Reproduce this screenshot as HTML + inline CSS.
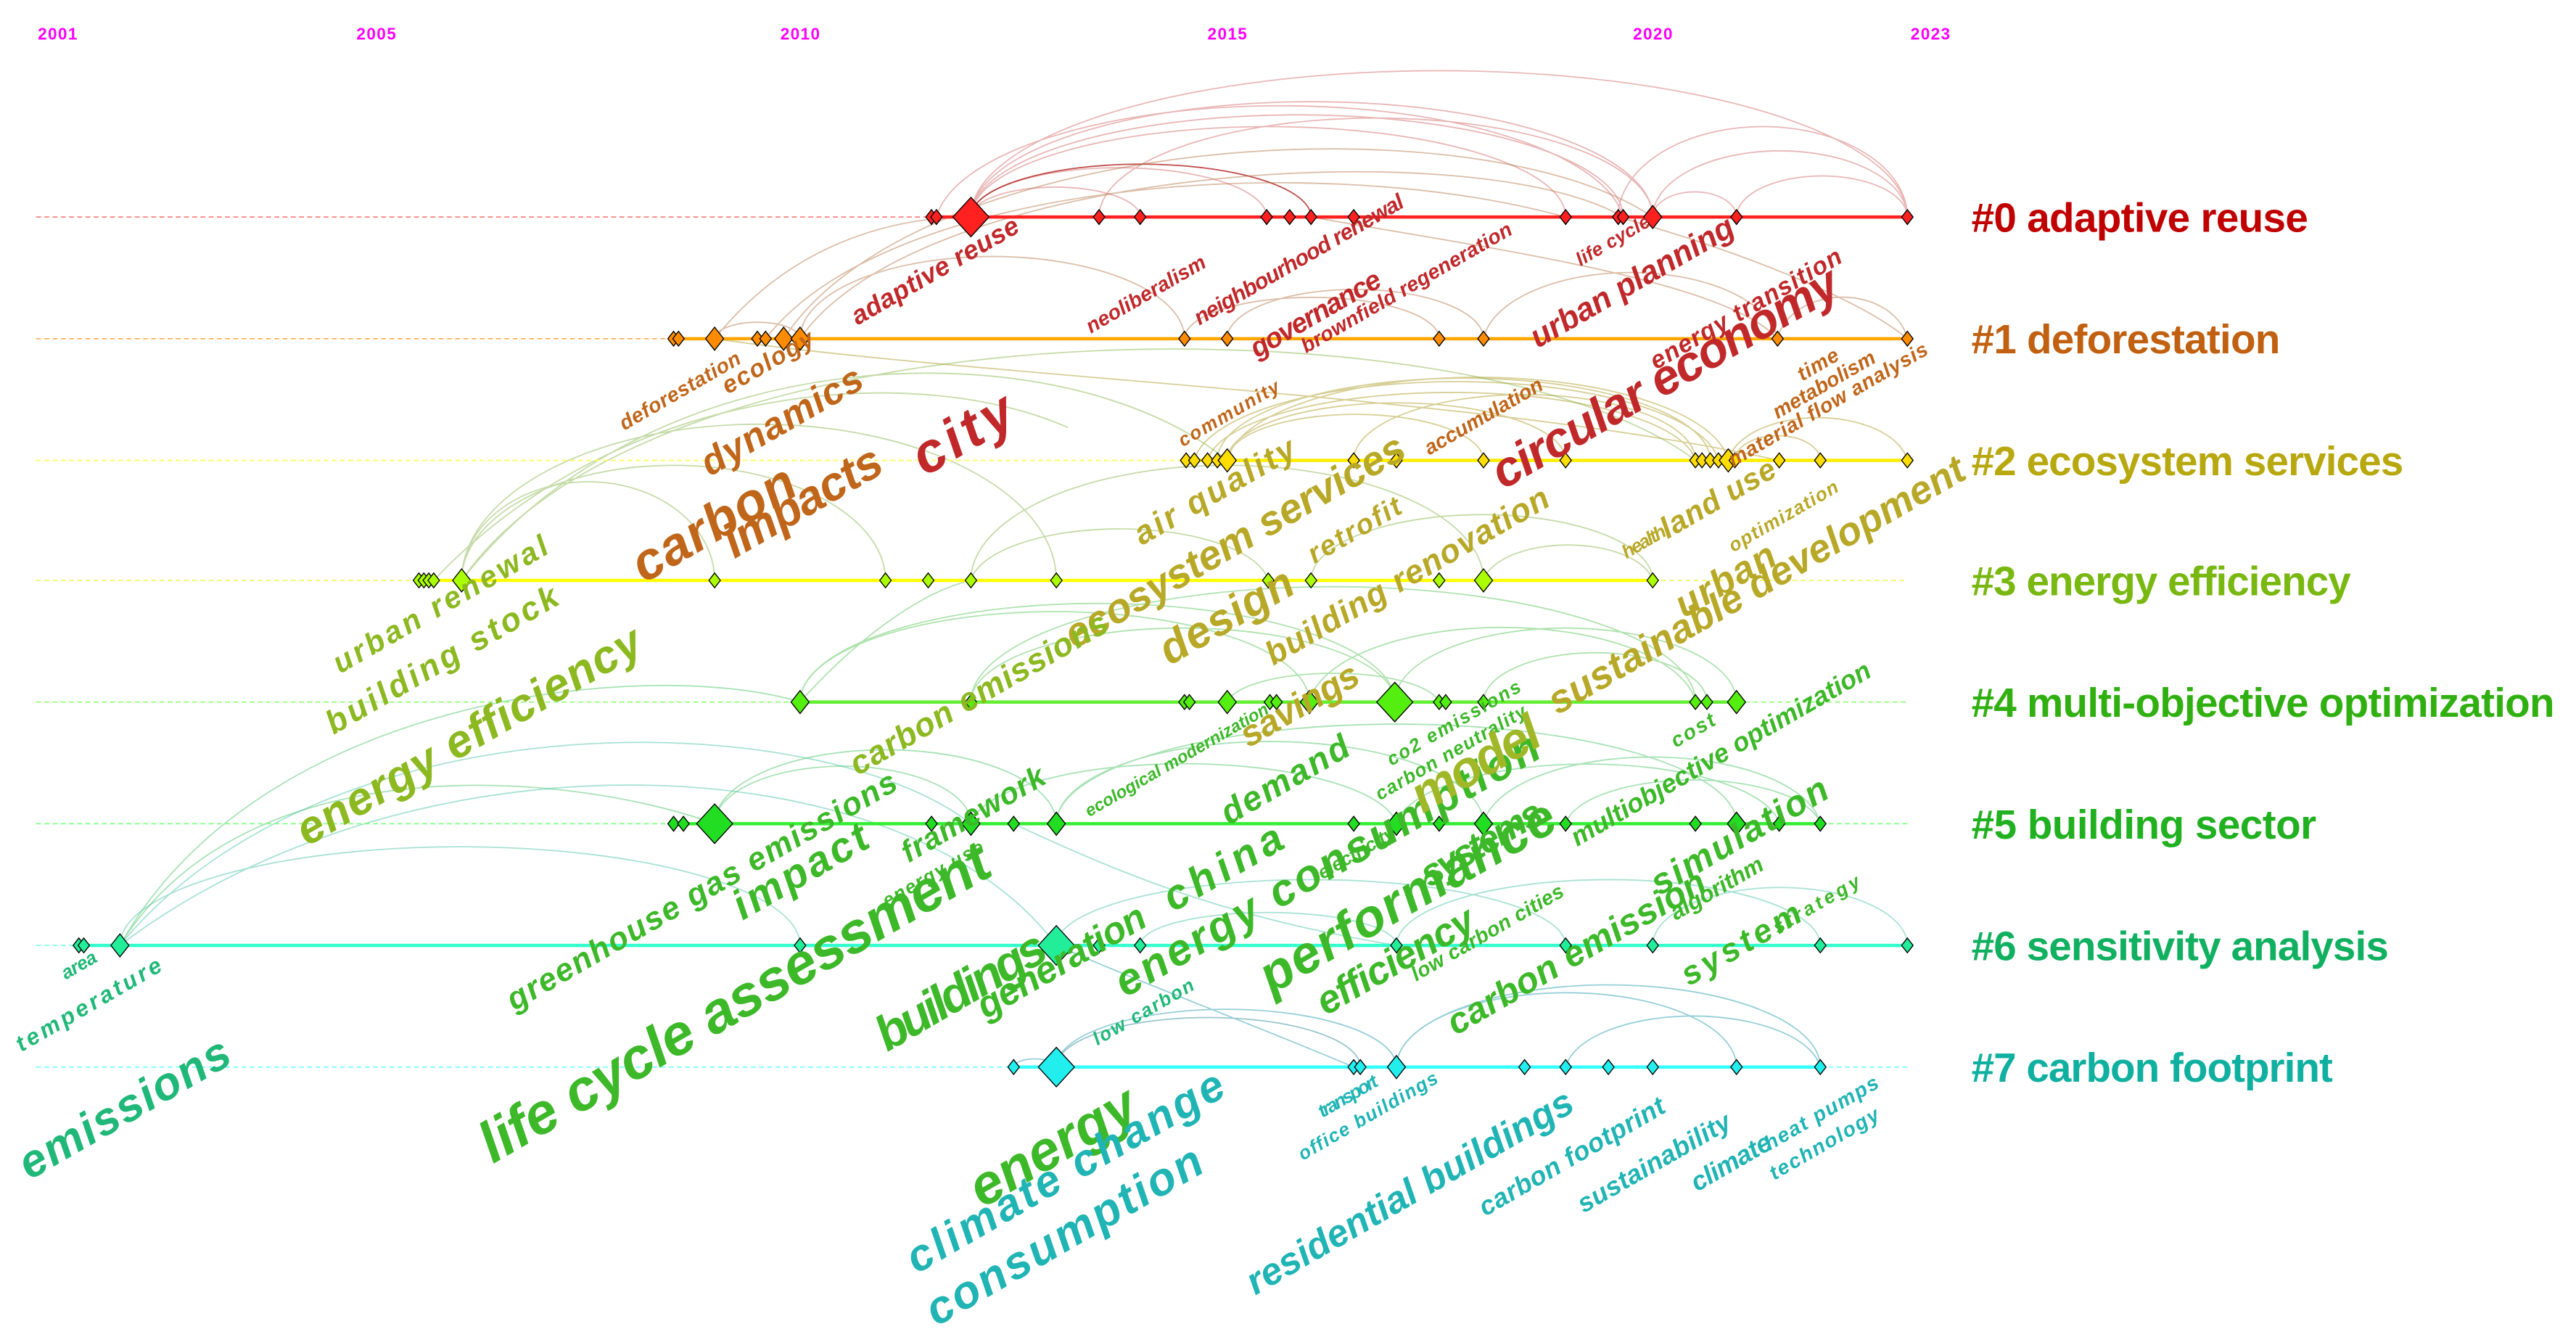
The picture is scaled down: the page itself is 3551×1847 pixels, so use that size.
<!DOCTYPE html>
<html><head><meta charset="utf-8"><style>
html,body{margin:0;padding:0;background:#fff;}
svg{display:block;}
.k{font-family:"Liberation Sans",sans-serif;font-weight:bold;font-style:italic;}
.y{font-family:"Liberation Sans Narrow","Liberation Sans",sans-serif;font-weight:bold;fill:#ff00ff;font-size:10px;}
.c{font-family:"Liberation Sans Narrow","Liberation Sans",sans-serif;font-weight:bold;font-size:25px;}
</style></head><body>
<svg width="3551" height="1847" viewBox="0 0 1568 815" preserveAspectRatio="none" xmlns="http://www.w3.org/2000/svg">
<rect width="1568" height="815" fill="#fff"/>
<g class="y" text-anchor="middle">
<text x="35" y="24" textLength="24">2001</text>
<text x="229" y="24" textLength="24">2005</text>
<text x="487" y="24" textLength="24">2010</text>
<text x="747" y="24" textLength="24">2015</text>
<text x="1006" y="24" textLength="24">2020</text>
<text x="1175" y="24" textLength="24">2023</text>
</g>
<g fill="none" stroke-width="0.8">
<g stroke="#d06060" opacity="0.45">
<path d="M591 132 A285 89 0 0 1 1161 132"/>
<path d="M591 132 A207 70 0 0 1 1006 132"/>
<path d="M591 132 A198 62 0 0 1 988 132"/>
<path d="M591 132 A181 55 0 0 1 953 132"/>
<path d="M591 132 A90 30 0 0 1 771 132"/>
<path d="M591 132 A51 18 0 0 1 694 132"/>
<path d="M1006 132 A77 40 0 0 1 1161 132"/>
<path d="M1006 132 A25 15 0 0 1 1057 132"/>
<path d="M1057 132 A52 25 0 0 1 1161 132"/>
<path d="M985 132 A88 55 0 0 1 1161 132"/>
<path d="M669 132 A168 60 0 0 1 1006 132"/>
<path d="M570 132 A210 75 0 0 1 988 132"/>
</g>
<path d="M591 132 A103 32 0 0 1 798 132" stroke="#b02020" opacity="0.8"/>
<g stroke="#b07040" opacity="0.45">
<path d="M435 206 C480 150 540 132 591 132"/>
<path d="M477 206 C560 80 900 60 1006 132"/>
<path d="M487 206 C560 100 900 80 988 132"/>
<path d="M466 206 C540 110 800 90 953 132"/>
<path d="M435 206 A26 10 0 0 1 487 206"/>
<path d="M747 206 A78 30 0 0 1 903 206"/>
<path d="M721 206 A77 25 0 0 1 876 206"/>
<path d="M903 206 A90 45 0 0 1 1082 206"/>
<path d="M1082 206 A40 30 0 0 1 1161 206"/>
<path d="M487 206 A117 50 0 0 1 721 206"/>
<path d="M798 132 C900 150 1050 170 1082 206"/>
<path d="M985 132 C1050 150 1130 180 1161 206"/>
</g>
<g stroke="#b0a030" opacity="0.5">
<path d="M747 280 A153 55 0 0 1 1052 280"/>
<path d="M741 280 A150 50 0 0 1 1041 280"/>
<path d="M735 280 A149 45 0 0 1 1032 280"/>
<path d="M727 280 A160 52 0 0 1 1046 280"/>
<path d="M747 280 A103 35 0 0 1 953 280"/>
<path d="M747 280 A78 28 0 0 1 903 280"/>
<path d="M1056 280 A26 15 0 0 1 1108 280"/>
<path d="M1052 280 A55 30 0 0 1 1161 280"/>
<path d="M824 280 A104 40 0 0 1 1032 280"/>
<path d="M435 206 C600 230 900 240 1083 280"/>
</g>
<g stroke="#80b040" opacity="0.45">
<path d="M281 353 C400 200 650 200 747 280"/>
<path d="M281 353 C400 180 900 180 1032 280"/>
<path d="M281 353 A129 70 0 0 1 539 353"/>
<path d="M281 353 A77 60 0 0 1 435 353"/>
<path d="M281 353 A181 95 0 0 1 643 353"/>
<path d="M591 353 A156 70 0 0 1 903 353"/>
<path d="M591 353 A91 35 0 0 1 772 353"/>
<path d="M798 353 A104 40 0 0 1 1006 353"/>
<path d="M903 353 A52 25 0 0 1 1006 353"/>
<path d="M264 353 C380 230 560 220 650 260"/>
</g>
<g stroke="#50c050" opacity="0.45">
<path d="M487 427 C520 390 560 360 591 353"/>
<path d="M487 427 A155 55 0 0 1 797 427"/>
<path d="M487 427 A181 60 0 0 1 849 427"/>
<path d="M797 427 A118 50 0 0 1 1032 427"/>
<path d="M849 427 A104 45 0 0 1 1057 427"/>
<path d="M747 427 A65 20 0 0 1 876 427"/>
<path d="M591 427 A129 45 0 0 1 849 427"/>
<path d="M903 427 A68 30 0 0 1 1039 427"/>
<path d="M591 427 A220 70 0 0 1 1032 427"/>
</g>
<g stroke="#40c060" opacity="0.45">
<path d="M73 575 C150 450 350 470 435 501"/>
<path d="M73 575 C160 420 400 400 487 427"/>
<path d="M435 501 A104 45 0 0 1 643 501"/>
<path d="M435 501 A78 35 0 0 1 591 501"/>
<path d="M591 501 A130 40 0 0 1 850 501"/>
<path d="M643 501 A130 50 0 0 1 903 501"/>
<path d="M850 501 A117 40 0 0 1 1083 501"/>
<path d="M903 501 A103 45 0 0 1 1108 501"/>
<path d="M953 501 A78 30 0 0 1 1108 501"/>
<path d="M643 501 A205 60 0 0 1 1057 501"/>
</g>
<g stroke="#40c0a0" opacity="0.45">
<path d="M73 575 C200 420 500 430 591 501"/>
<path d="M73 575 A207 60 0 0 1 487 575"/>
<path d="M73 575 C250 440 550 450 643 575"/>
<path d="M643 575 A155 40 0 0 1 953 575"/>
<path d="M850 575 A129 40 0 0 1 1108 575"/>
<path d="M1006 575 A77 35 0 0 1 1161 575"/>
<path d="M694 575 A78 20 0 0 1 850 575"/>
<path d="M617 501 C700 540 760 560 850 575"/>
</g>
<g stroke="#30a0b0" opacity="0.5">
<path d="M643 649 A92 30 0 0 1 828 649" stroke="#208090" opacity="0.9"/>
<path d="M643 649 A103 35 0 0 1 850 649"/>
<path d="M850 649 A103 45 0 0 1 1057 649"/>
<path d="M850 649 A129 50 0 0 1 1108 649"/>
<path d="M953 649 A78 35 0 0 1 1108 649"/>
<path d="M617 649 A13 5 0 0 1 643 649"/>
<path d="M643 575 C700 600 780 630 824 649"/>
</g>
</g>
<g stroke-width="0.8" stroke-dasharray="3,2" fill="none">
<line x1="22" y1="132" x2="567" y2="132" stroke="#ff8080"/>
<line x1="22" y1="206" x2="410" y2="206" stroke="#ffb060"/>
<line x1="22" y1="280" x2="722" y2="280" stroke="#ffff60"/>
<line x1="22" y1="353" x2="255" y2="353" stroke="#eeff60"/>
<line x1="1006" y1="353" x2="1161" y2="353" stroke="#eeff60"/>
<line x1="22" y1="427" x2="487" y2="427" stroke="#99ff80"/>
<line x1="1057" y1="427" x2="1161" y2="427" stroke="#99ff80"/>
<line x1="22" y1="501" x2="410" y2="501" stroke="#80ff80"/>
<line x1="1108" y1="501" x2="1161" y2="501" stroke="#80ff80"/>
<line x1="22" y1="575" x2="48" y2="575" stroke="#80ffdd"/>
<line x1="22" y1="649" x2="617" y2="649" stroke="#80ffff"/>
<line x1="1108" y1="649" x2="1161" y2="649" stroke="#80ffff"/>
</g>
<g stroke-width="2">
<line x1="567" y1="132" x2="1161" y2="132" stroke="#ff2020"/>
<line x1="410" y1="206" x2="1161" y2="206" stroke="#ffa500"/>
<line x1="722" y1="280" x2="1161" y2="280" stroke="#ffee00"/>
<line x1="255" y1="353" x2="1006" y2="353" stroke="#ffff00"/>
<line x1="487" y1="427" x2="1057" y2="427" stroke="#66ee33"/>
<line x1="410" y1="501" x2="1108" y2="501" stroke="#33ee33"/>
<line x1="48" y1="575" x2="1161" y2="575" stroke="#33ffcc"/>
<line x1="617" y1="649" x2="1108" y2="649" stroke="#33ffff"/>
</g>
<defs>
<path id="s" d="M0 -4.5 L3.5 0 L0 4.5 L-3.5 0Z"/>
<path id="m" d="M0 -7 L5.5 0 L0 7 L-5.5 0Z"/>
<path id="b" d="M0 -12 L11 0 L0 12 L-11 0Z"/>
</defs>
<g stroke="#000" stroke-width="0.6">
<g fill="#ff2020">
<use href="#s" x="567" y="132"/><use href="#s" x="570" y="132"/><use href="#b" x="591" y="132"/><use href="#s" x="669" y="132"/><use href="#s" x="694" y="132"/><use href="#s" x="771" y="132"/><use href="#s" x="785" y="132"/><use href="#s" x="798" y="132"/><use href="#s" x="824" y="132"/><use href="#s" x="953" y="132"/><use href="#s" x="985" y="132"/><use href="#s" x="988" y="132"/><use href="#m" x="1006" y="132"/><use href="#s" x="1057" y="132"/><use href="#s" x="1161" y="132"/>
</g>
<g fill="#ff8c00">
<use href="#s" x="410" y="206"/><use href="#s" x="413" y="206"/><use href="#m" x="435" y="206"/><use href="#s" x="461" y="206"/><use href="#s" x="466" y="206"/><use href="#m" x="477" y="206"/><use href="#m" x="487" y="206"/><use href="#s" x="721" y="206"/><use href="#s" x="747" y="206"/><use href="#s" x="876" y="206"/><use href="#s" x="903" y="206"/><use href="#s" x="1082" y="206"/><use href="#s" x="1161" y="206"/>
</g>
<g fill="#ffdd00">
<use href="#s" x="722" y="280"/><use href="#s" x="727" y="280"/><use href="#s" x="735" y="280"/><use href="#s" x="741" y="280"/><use href="#m" x="747" y="280"/><use href="#s" x="824" y="280"/><use href="#s" x="850" y="280"/><use href="#s" x="903" y="280"/><use href="#s" x="953" y="280"/><use href="#s" x="1032" y="280"/><use href="#s" x="1036" y="280"/><use href="#s" x="1041" y="280"/><use href="#s" x="1046" y="280"/><use href="#m" x="1052" y="280"/><use href="#s" x="1056" y="280"/><use href="#s" x="1083" y="280"/><use href="#s" x="1108" y="280"/><use href="#s" x="1161" y="280"/>
</g>
<g fill="#aaff00">
<use href="#s" x="255" y="353"/><use href="#s" x="258" y="353"/><use href="#s" x="261" y="353"/><use href="#s" x="264" y="353"/><use href="#m" x="281" y="353"/><use href="#s" x="435" y="353"/><use href="#s" x="539" y="353"/><use href="#s" x="565" y="353"/><use href="#s" x="591" y="353"/><use href="#s" x="643" y="353"/><use href="#s" x="772" y="353"/><use href="#s" x="798" y="353"/><use href="#s" x="876" y="353"/><use href="#m" x="903" y="353"/><use href="#s" x="1006" y="353"/>
</g>
<g fill="#55ee11">
<use href="#m" x="487" y="427"/><use href="#s" x="591" y="427"/><use href="#s" x="721" y="427"/><use href="#s" x="724" y="427"/><use href="#m" x="747" y="427"/><use href="#s" x="773" y="427"/><use href="#s" x="777" y="427"/><use href="#m" x="797" y="427"/><use href="#b" x="849" y="427"/><use href="#s" x="876" y="427"/><use href="#s" x="880" y="427"/><use href="#s" x="903" y="427"/><use href="#s" x="1032" y="427"/><use href="#s" x="1039" y="427"/><use href="#m" x="1057" y="427"/>
</g>
<g fill="#22dd22">
<use href="#s" x="410" y="501"/><use href="#s" x="416" y="501"/><use href="#b" x="435" y="501"/><use href="#s" x="567" y="501"/><use href="#m" x="591" y="501"/><use href="#s" x="617" y="501"/><use href="#m" x="643" y="501"/><use href="#s" x="824" y="501"/><use href="#m" x="850" y="501"/><use href="#s" x="876" y="501"/><use href="#m" x="903" y="501"/><use href="#s" x="953" y="501"/><use href="#s" x="1032" y="501"/><use href="#m" x="1057" y="501"/><use href="#s" x="1083" y="501"/><use href="#s" x="1108" y="501"/>
</g>
<g fill="#22ee99">
<use href="#s" x="48" y="575"/><use href="#s" x="51" y="575"/><use href="#m" x="73" y="575"/><use href="#s" x="487" y="575"/><use href="#b" x="643" y="575"/><use href="#s" x="669" y="575"/><use href="#s" x="694" y="575"/><use href="#s" x="850" y="575"/><use href="#s" x="953" y="575"/><use href="#s" x="1006" y="575"/><use href="#s" x="1108" y="575"/><use href="#s" x="1161" y="575"/>
</g>
<g fill="#22eeee">
<use href="#s" x="617" y="649"/><use href="#b" x="643" y="649"/><use href="#s" x="824" y="649"/><use href="#s" x="828" y="649"/><use href="#m" x="850" y="649"/><use href="#s" x="928" y="649"/><use href="#s" x="953" y="649"/><use href="#s" x="979" y="649"/><use href="#s" x="1006" y="649"/><use href="#s" x="1057" y="649"/><use href="#s" x="1108" y="649"/>
</g>
</g>
<g class="k" lengthAdjust="spacingAndGlyphs">
<g fill="#c0282a">
<text x="522" y="198" font-size="16" textLength="115" transform="rotate(-30 522 198)">adaptive reuse</text>
<text x="664" y="203" font-size="12.5" textLength="82" transform="rotate(-30 664 203)">neoliberalism</text>
<text x="730" y="198" font-size="13.5" textLength="145" transform="rotate(-30 730 198)">neighbourhood renewal</text>
<text x="765" y="218" font-size="17" textLength="89" transform="rotate(-30 765 218)">governance</text>
<text x="795" y="215" font-size="12.5" textLength="146" transform="rotate(-30 795 215)">brownfield regeneration</text>
<text x="962" y="162" font-size="11.5" textLength="50" transform="rotate(-30 962 162)">life cycle</text>
<text x="936" y="212" font-size="19.5" textLength="140" transform="rotate(-30 936 212)">urban planning</text>
<text x="915" y="298" font-size="30" textLength="239" transform="rotate(-30 915 298)">circular economy</text>
<text x="1008" y="225" font-size="15" textLength="132" transform="rotate(-30 1008 225)">energy transition</text>
<text x="563" y="290" font-size="34" textLength="66" transform="rotate(-30 563 290)">city</text>
</g>
<g fill="#c0661a">
<text x="380" y="262" font-size="12.5" textLength="83" transform="rotate(-30 380 262)">deforestation</text>
<text x="443" y="240" font-size="15" textLength="62" transform="rotate(-30 443 240)">ecology</text>
<text x="432" y="290" font-size="23" textLength="110" transform="rotate(-30 432 290)">dynamics</text>
<text x="392" y="355" font-size="32" textLength="110" transform="rotate(-30 392 355)">carbon</text>
<text x="447" y="340" font-size="29" textLength="107" transform="rotate(-30 447 340)">impacts</text>
<text x="720" y="272" font-size="11.5" textLength="69" transform="rotate(-30 720 272)">community</text>
<text x="870" y="277" font-size="12.5" textLength="81" transform="rotate(-30 870 277)">accumulation</text>
<text x="1097" y="232" font-size="12.5" textLength="27" transform="rotate(-30 1097 232)">time</text>
<text x="1082" y="255" font-size="12.5" textLength="70" transform="rotate(-30 1082 255)">metabolism</text>
<text x="1055" y="284" font-size="12.5" textLength="138" transform="rotate(-30 1055 284)">material flow analysis</text>
</g>
<g fill="#b8a828">
<text x="695" y="332" font-size="20" textLength="110" transform="rotate(-30 695 332)">air quality</text>
<text x="654" y="395" font-size="25" textLength="235" transform="rotate(-30 654 395)">ecosystem services</text>
<text x="800" y="343" font-size="17" textLength="63" transform="rotate(-30 800 343)">retrofit</text>
<text x="712" y="405" font-size="27" textLength="90" transform="rotate(-30 712 405)">design</text>
<text x="775" y="405" font-size="20" textLength="196" transform="rotate(-30 775 405)">building renovation</text>
<text x="948" y="435" font-size="24" textLength="289" transform="rotate(-30 948 435)">sustainable development</text>
<text x="1025" y="376" font-size="23" textLength="67" transform="rotate(-30 1025 376)">urban</text>
<text x="1015" y="328" font-size="18.5" textLength="78" transform="rotate(-30 1015 328)">land use</text>
<text x="990" y="340" font-size="11.5" textLength="29" transform="rotate(-30 990 340)">health</text>
<text x="1055" y="336" font-size="11.5" textLength="75" transform="rotate(-30 1055 336)">optimization</text>
<text x="760" y="455" font-size="22" textLength="80" transform="rotate(-30 760 455)">savings</text>
</g>
<g fill="#8cb820">
<text x="207" y="410" font-size="18.5" textLength="148" transform="rotate(-30 207 410)">urban renewal</text>
<text x="203" y="447" font-size="20" textLength="160" transform="rotate(-30 203 447)">building stock</text>
<text x="187" y="515" font-size="28" textLength="238" transform="rotate(-30 187 515)">energy efficiency</text>
<text x="522" y="472" font-size="20" textLength="178" transform="rotate(-30 522 472)">carbon emissions</text>
</g>
<g fill="#3cb828">
<text x="663" y="497" font-size="10.5" textLength="127" transform="rotate(-30 663 497)">ecological modernization</text>
<text x="847" y="466" font-size="11.5" textLength="92" transform="rotate(-30 847 466)">co2 emissions</text>
<text x="840" y="487" font-size="11.5" textLength="104" transform="rotate(-30 840 487)">carbon neutrality</text>
<text x="1020" y="455" font-size="12.5" textLength="29" transform="rotate(-30 1020 455)">cost</text>
<text x="748" y="502" font-size="21" textLength="87" transform="rotate(-30 748 502)">demand</text>
<text x="553" y="525" font-size="18.5" textLength="98" transform="rotate(-30 553 525)">framework</text>
<text x="313" y="615" font-size="19.5" textLength="271" transform="rotate(-30 313 615)">greenhouse gas emissions</text>
<text x="452" y="560" font-size="25.5" textLength="91" transform="rotate(-30 452 560)">impact</text>
<text x="540" y="552" font-size="11.5" textLength="69" transform="rotate(-30 540 552)">energy use</text>
<text x="300" y="708" font-size="35" textLength="353" transform="rotate(-30 300 708)">life cycle assessment</text>
<text x="714" y="555" font-size="25.5" textLength="80" transform="rotate(-30 714 555)">china</text>
<text x="685" y="607" font-size="27" textLength="294" transform="rotate(-30 685 607)">energy consumption</text>
<text x="870" y="540" font-size="23" textLength="82" transform="rotate(-30 870 540)">systems</text>
<text x="774" y="605" font-size="32" textLength="203" transform="rotate(-30 774 605)">performance</text>
<text x="960" y="515" font-size="16" textLength="208" transform="rotate(-30 960 515)">multiobjective optimization</text>
<text x="1010" y="545" font-size="22" textLength="121" transform="rotate(-30 1010 545)">simulation</text>
<text x="805" y="535" font-size="11.5" textLength="52" transform="rotate(-30 805 535)">electricity</text>
<text x="1020" y="560" font-size="14" textLength="63" transform="rotate(-30 1020 560)">algorithm</text>
<text x="540" y="640" font-size="30" textLength="115" transform="rotate(-30 540 640)">buildings</text>
<text x="600" y="620" font-size="23" textLength="115" transform="rotate(-30 600 620)">generation</text>
<text x="807" y="618" font-size="24" textLength="107" transform="rotate(-30 807 618)">efficiency</text>
<text x="862" y="597" font-size="12.5" textLength="105" transform="rotate(-30 862 597)">low carbon cities</text>
<text x="886" y="630" font-size="22" textLength="178" transform="rotate(-30 886 630)">carbon emission</text>
<text x="1028" y="600" font-size="20" textLength="81" transform="rotate(-30 1028 600)">system</text>
<text x="1082" y="568" font-size="11.5" textLength="59" transform="rotate(-30 1082 568)">strategy</text>
<text x="598" y="735" font-size="34" textLength="112" transform="rotate(-30 598 735)">energy</text>
</g>
<text x="866" y="495" font-size="31" textLength="86" fill="#a0b828" transform="rotate(-30 866 495)">model</text>
<g fill="#20b878">
<text x="40" y="596" font-size="11.5" textLength="23" transform="rotate(-30 40 596)">area</text>
<text x="13" y="640" font-size="14" textLength="100" transform="rotate(-30 13 640)">temperature</text>
<text x="18" y="718" font-size="28" textLength="144" transform="rotate(-30 18 718)">emissions</text>
<text x="668" y="636" font-size="11.5" textLength="69" transform="rotate(-30 668 636)">low carbon</text>
</g>
<g fill="#20b4b4">
<text x="805" y="680" font-size="11.5" textLength="40" transform="rotate(-30 805 680)">transport</text>
<text x="793" y="706" font-size="11.5" textLength="96" transform="rotate(-30 793 706)">office buildings</text>
<text x="558" y="775" font-size="27" textLength="219" transform="rotate(-30 558 775)">climate change</text>
<text x="570" y="807" font-size="28" textLength="190" transform="rotate(-30 570 807)">consumption</text>
<text x="764" y="788" font-size="23" textLength="226" transform="rotate(-30 764 788)">residential buildings</text>
<text x="904" y="740" font-size="16" textLength="128" transform="rotate(-30 904 740)">carbon footprint</text>
<text x="964" y="738" font-size="16" textLength="105" transform="rotate(-30 964 738)">sustainability</text>
<text x="1033" y="725" font-size="16" textLength="54" transform="rotate(-30 1033 725)">climate</text>
<text x="1077" y="700" font-size="12.5" textLength="78" transform="rotate(-30 1077 700)">heat pumps</text>
<text x="1080" y="718" font-size="12.5" textLength="75" transform="rotate(-30 1080 718)">technology</text>
</g>
</g>
<g class="c" lengthAdjust="spacingAndGlyphs">
<text x="1200" y="141" textLength="205" fill="#c00000">#0 adaptive reuse</text>
<text x="1200" y="215" textLength="188" fill="#c06010">#1 deforestation</text>
<text x="1200" y="289" textLength="263" fill="#b8a810">#2 ecosystem services</text>
<text x="1200" y="362" textLength="231" fill="#78b810">#3 energy efficiency</text>
<text x="1200" y="436" textLength="355" fill="#30b010">#4 multi-objective optimization</text>
<text x="1200" y="510" textLength="210" fill="#20b020">#5 building sector</text>
<text x="1200" y="584" textLength="254" fill="#10b060">#6 sensitivity analysis</text>
<text x="1200" y="658" textLength="220" fill="#10b0a0">#7 carbon footprint</text>
</g>
</svg>
</body></html>
